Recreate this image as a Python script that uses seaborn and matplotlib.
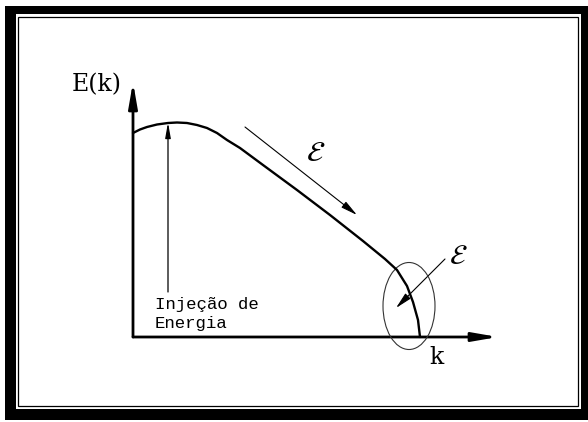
import matplotlib
matplotlib.use("Agg")
import matplotlib.pyplot as plt
import seaborn as sns
import pandas as pd
from matplotlib.patches import Rectangle, Ellipse, FancyArrowPatch

sns.set_theme(style="white")
plt.rcParams["mathtext.fontset"] = "stix"

# Schematic energy spectrum E(k): wavenumber vs. energy (arbitrary units)
k_vals = [0, 7, 14, 24, 35, 44, 54, 64, 74, 84, 94, 107, 130, 164,
          197, 230, 252, 264, 274, 280, 285, 287]
E_vals = [204, 207.5, 210, 212.5, 214, 214.5, 214, 212, 209, 204, 197, 189,
          172, 147, 122, 96, 78, 67, 51, 35, 17, 0]

k_axis_end = 365
E_axis_end = 255

k_injection = 35          # wavenumber where energy is injected
injection_lines = ["Injeção de", "Energia"]
transfer_label = r"$\mathcal{E}$"

# inertial-range cascade arrow and dissipation arrow (start -> end)
cascade_from, cascade_to = (112, 210), (224, 122)
dissip_from, dissip_to = (312, 78), (263, 29)
dissip_center, dissip_w, dissip_h = (276, 31), 52, 87

W, H = 588, 422
fig = plt.figure(figsize=(W / 100, H / 100), dpi=100)
fig.patch.set_facecolor("white")
ax = fig.add_axes([0, 0, 1, 1])
ax.set_zorder(5)
ax.set_xlim(-133, W - 133)
ax.set_ylim(337 - H, 337)
ax.axis("off")

# double frame around the figure
def frac_rect(x0, y0, x1, y1, **kw):
    return Rectangle((x0 / W, 1 - y1 / H), (x1 - x0) / W, (y1 - y0) / H,
                     transform=fig.transFigure, zorder=-5, **kw)

fig.patches.append(frac_rect(5, 6, 588, 420, facecolor="black", edgecolor="none"))
fig.patches.append(frac_rect(15.5, 13.5, 581, 408.5, facecolor="white", edgecolor="none"))
fig.patches.append(frac_rect(18, 16.5, 578, 406, facecolor="none",
                             edgecolor="black", linewidth=0.9))

def arrow(p0, p1, lw, hl, hw):
    ax.add_patch(FancyArrowPatch(p0, p1, arrowstyle=f"-|>,head_length={hl},head_width={hw}",
                                 mutation_scale=1, color="black", linewidth=lw,
                                 shrinkA=0, shrinkB=0))

# axes with arrowheads
arrow((0, 0), (k_axis_end, 0), 2.0, 15, 2.6)
arrow((0, 0), (0, E_axis_end), 2.0, 15, 2.6)

# spectrum curve
df = pd.DataFrame({"k": k_vals, "E": E_vals})
sns.lineplot(data=df, x="k", y="E", sort=False, estimator=None, ax=ax,
             color="black", linewidth=1.7)

# energy injection arrow
arrow((k_injection, 45), (k_injection, max(E_vals)), 0.9, 9, 1.6)
for text, y in zip(injection_lines, [28, 9]):
    ax.text(22, y, text, family="Liberation Mono", fontsize=12.5,
            color="black", ha="left", va="baseline")

# transfer arrows and labels
arrow(cascade_from, cascade_to, 0.8, 10, 2.2)
arrow(dissip_from, dissip_to, 0.8, 10, 2.2)
ax.text(183, 184, transfer_label, fontsize=21, color="black", ha="center", va="center")
ax.text(325, 81, transfer_label, fontsize=20, color="black", ha="center", va="center")

ax.add_patch(Ellipse(dissip_center, dissip_w, dissip_h, facecolor="none",
                     edgecolor="#333333", linewidth=0.8))

# axis labels
ax.text(-11, 252, "E(k)", family="DejaVu Serif", fontsize=17, color="black",
        ha="right", va="center")
ax.text(303, -21, "k", family="DejaVu Serif", fontsize=17, color="black",
        ha="center", va="center")

fig.savefig("out.png", dpi=100, facecolor="white")
